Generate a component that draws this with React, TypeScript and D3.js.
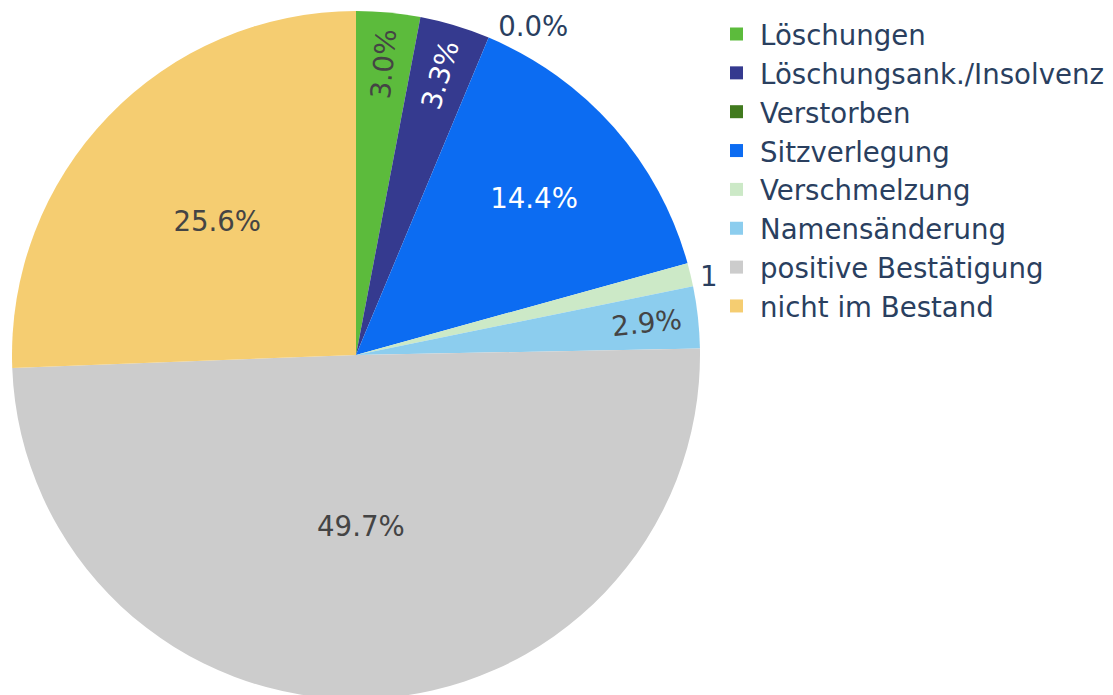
import React from "react";
import * as d3 from "d3";

const categories = [
  "Löschungen",
  "Löschungsank./Insolvenz",
  "Verstorben",
  "Sitzverlegung",
  "Verschmelzung",
  "Namensänderung",
  "positive Bestätigung",
  "nicht im Bestand",
];
const values = [3.0, 3.3, 0.0, 14.4, 1.1, 2.9, 49.7, 25.6];
const colors = [
  "#5cbb3c",
  "#353a8f",
  "#417a1e",
  "#0c6cf2",
  "#cce9c7",
  "#8ccdee",
  "#cccccc",
  "#f5cd71",
];

const W = 1113;
const H = 695;
const CX = 356;
const CY = 355;
const R = 344;
const FONT = "'DejaVu Sans', Verdana, sans-serif";
const FS = 27.6;
const LEGEND_LEFT = 716;

function isLight(c: string) {
  const rgb = d3.rgb(c);
  return (rgb.r * 299 + rgb.g * 587 + rgb.b * 114) / 1000 >= 128;
}

function charW(ch: string) {
  if (ch === ".") return 0.318 * FS;
  if (ch === "%") return 0.95 * FS;
  return 0.636 * FS;
}

// truncate label to the part visible left of the legend box
function fitText(txt: string, x: number, limit: number) {
  let out = "";
  let cx = x;
  for (const ch of txt) {
    if (cx + charW(ch) * 0.7 > limit) break;
    out += ch;
    cx += charW(ch);
  }
  return out;
}

export default function App() {
  const total = d3.sum(values);
  const pie = d3
    .pie<number>()
    .sort(null)
    .value((d) => d)
    .startAngle(0)
    .endAngle(2 * Math.PI);
  const arcs = pie(values);
  const arc = d3.arc<d3.PieArcDatum<number>>().innerRadius(0).outerRadius(R);

  const labels = arcs.map((a, i) => {
    const frac = values[i] / total;
    const txt = d3.format(".1%")(frac);
    const mid = (a.startAngle + a.endAngle) / 2;
    const dx = Math.sin(mid);
    const dy = -Math.cos(mid);
    const span = a.endAngle - a.startAngle;
    if (frac < 0.02) {
      // outside label
      const px = CX + dx * R;
      const py = CY + dy * R;
      const x = px + 9.5;
      return (
        <text
          key={"l" + i}
          x={x}
          y={py + 15.3 + 18.8 * dy}
          fontSize={FS}
          fill="#2a3f5f"
          fontFamily={FONT}
        >
          {fitText(txt, x, LEGEND_LEFT)}
        </text>
      );
    }
    const fill = isLight(colors[i]) ? "#444" : "#ffffff";
    if (span < 0.3) {
      const rr = 0.85 * R;
      const x = CX + dx * rr;
      const y = CY + dy * rr;
      const rot = -90 + (mid * 180) / Math.PI;
      return (
        <text
          key={"l" + i}
          transform={`translate(${x},${y}) rotate(${rot})`}
          textAnchor="middle"
          dominantBaseline="central"
          fontSize={FS}
          fill={fill}
          fontFamily={FONT}
        >
          {txt}
        </text>
      );
    }
    const rf = frac > 0.4 ? 0.5 : frac > 0.2 ? 0.56 : frac > 0.1 ? 0.69 : 0.855;
    const x = CX + dx * rf * R;
    const y = CY + dy * rf * R;
    return (
      <text
        key={"l" + i}
        x={x}
        y={y}
        textAnchor="middle"
        dominantBaseline="central"
        fontSize={FS}
        fill={fill}
        fontFamily={FONT}
      >
        {txt}
      </text>
    );
  });

  const legendX = 730;
  const legendY0 = 34;
  const legendStep = 38.85;

  return (
    <div style={{ position: "absolute", left: 0, top: 0 }}>
      <svg width={W} height={H} style={{ display: "block", background: "#fff" }}>
        <g transform={`translate(${CX},${CY})`}>
          {arcs.map((a, i) => (
            <path key={i} d={arc(a) || ""} fill={colors[i]} />
          ))}
        </g>
        {labels}
        {categories.map((c, i) => {
          const yc = legendY0 + i * legendStep;
          return (
            <g key={"lg" + i}>
              <rect x={legendX} y={yc - 6.5} width={13} height={13} fill={colors[i]} />
              <text
                x={760}
                y={yc + 11}
                fontSize={FS}
                fill="#2a3f5f"
                fontFamily={FONT}
              >
                {c}
              </text>
            </g>
          );
        })}
      </svg>
    </div>
  );
}
